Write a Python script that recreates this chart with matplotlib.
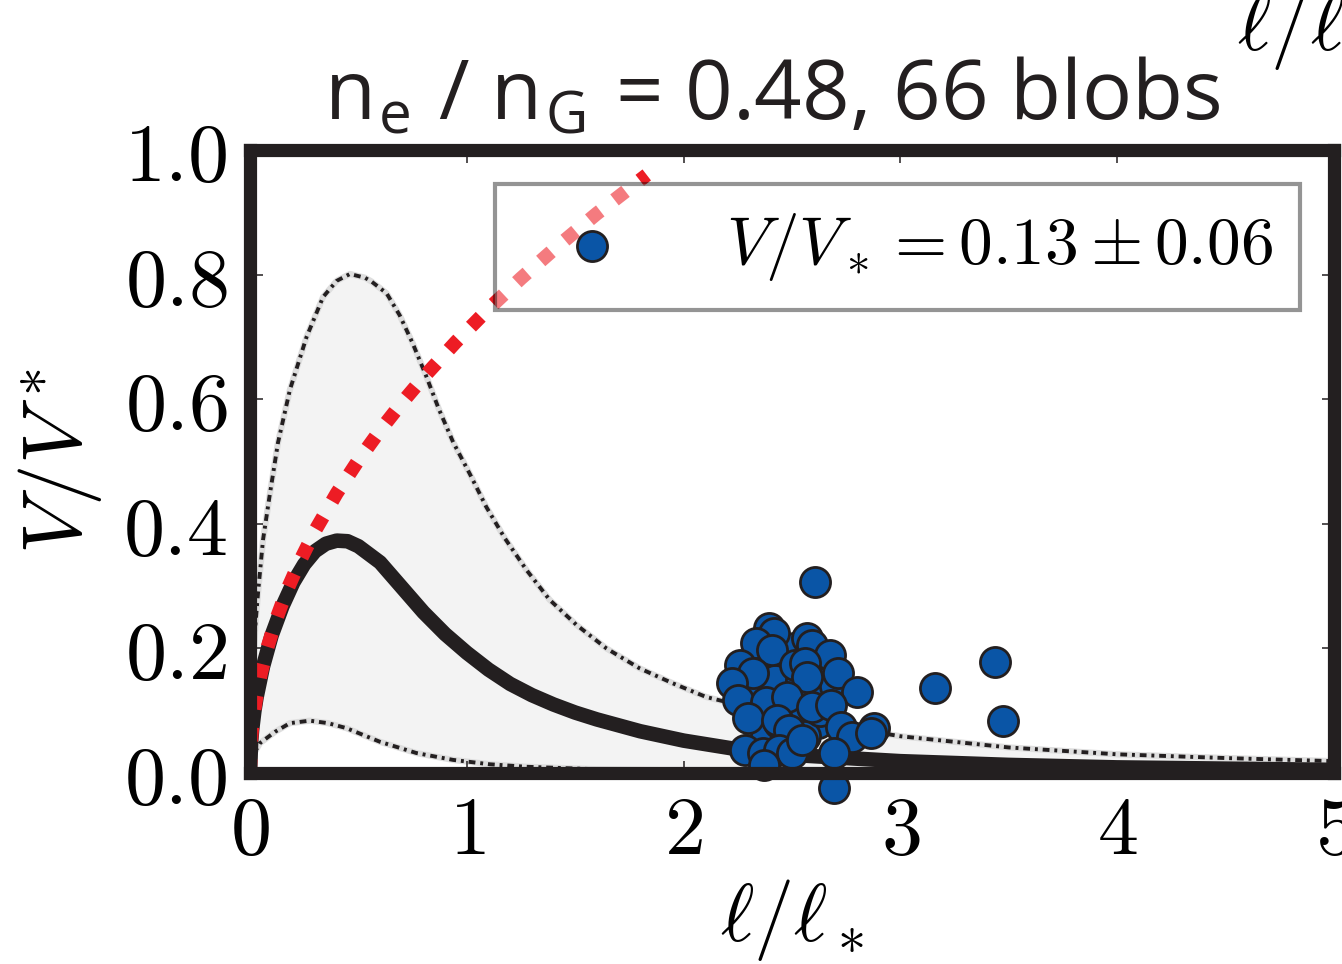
import numpy as np
import matplotlib
matplotlib.use("Agg")
import matplotlib.pyplot as plt

plt.rcParams['mathtext.fontset'] = 'cm'

# model curve (solid black)
model_l = [0, 0.005, 0.01, 0.02, 0.03, 0.06, 0.1, 0.15, 0.2, 0.25, 0.3, 0.35, 0.4, 0.45,
           0.5, 0.6, 0.7, 0.8, 0.9, 1.0, 1.1, 1.2, 1.3, 1.4, 1.5, 1.6, 1.8, 2.0, 2.25, 2.5,
           3.0, 3.5, 4.0, 4.5, 5.0]
model_v = [0, 0.050, 0.070, 0.099, 0.121, 0.171, 0.221, 0.268, 0.306, 0.335, 0.356, 0.368,
           0.373, 0.372, 0.364, 0.338, 0.298, 0.258, 0.223, 0.193, 0.166, 0.143, 0.125, 0.110,
           0.097, 0.086, 0.067, 0.052, 0.038, 0.029, 0.019, 0.013, 0.009, 0.007, 0.005]

# small-blob limit (red dotted)
red_l = [0, 0.005, 0.01, 0.02, 0.03, 0.05, 0.08, 0.12, 0.17, 0.23, 0.3, 0.4, 0.5, 0.6, 0.7, 0.8,
         0.95, 1.1, 1.25, 1.4, 1.6, 1.83]
red_v = [0, 0.050, 0.071, 0.100, 0.123, 0.159, 0.201, 0.246, 0.293, 0.340, 0.389, 0.449, 0.502,
         0.550, 0.594, 0.635, 0.692, 0.745, 0.794, 0.840, 0.898, 0.960]

# uncertainty band edges
up_l = [0, 0.005, 0.012, 0.026, 0.037, 0.06, 0.09, 0.129, 0.184, 0.261, 0.337, 0.40, 0.461,
        0.53, 0.56, 0.63, 0.69, 0.75, 0.814, 0.87, 0.937, 1.014, 1.09, 1.175, 1.275, 1.382,
        1.505, 1.644, 1.797, 1.95, 2.104, 2.5, 3.0, 3.5, 4.0, 4.5, 5.0]
up_v = [0, 0.106, 0.164, 0.242, 0.289, 0.374, 0.444, 0.53, 0.615, 0.70, 0.764, 0.79, 0.801,
        0.795, 0.789, 0.77, 0.735, 0.69, 0.636, 0.585, 0.531, 0.48, 0.427, 0.377, 0.326, 0.278,
        0.238, 0.20, 0.168, 0.144, 0.122, 0.088, 0.059, 0.041, 0.030, 0.024, 0.019]
lo_l = [0, 0.01, 0.023, 0.046, 0.115, 0.184, 0.276, 0.36, 0.445, 0.6, 0.768, 0.937, 1.106, 1.275,
        1.6, 2.0, 2.5, 3.0, 4.0, 5.0]
lo_v = [0, 0.022, 0.034, 0.048, 0.066, 0.080, 0.084, 0.080, 0.072, 0.050, 0.032, 0.021, 0.014,
        0.010, 0.006, 0.004, 0.003, 0.002, 0.001, 0.001]

# 66 blobs (hidden ones first, visible ones on top)
blob_l = [2.35, 2.45, 2.50, 2.40, 2.55, 2.60, 2.30, 2.45, 2.52, 2.62, 2.38, 2.58, 2.47, 2.65,
          2.33, 2.42, 2.56, 2.49, 2.60, 2.36, 2.70, 2.28, 2.51, 2.44, 2.63, 2.54, 2.40,
          2.396, 2.419, 2.336, 2.410, 2.571, 2.594, 2.673, 2.258, 2.318, 2.512, 2.558, 2.710,
          2.571, 2.221, 2.802, 2.249, 2.382, 2.479, 2.590, 2.682, 2.295, 2.728, 2.880, 2.779,
          2.433, 2.488, 2.281, 2.364, 2.442, 2.502, 2.696, 2.696, 2.373, 2.544, 2.866,
          2.604, 3.161, 3.438, 3.475]
blob_v = [0.18, 0.16, 0.14, 0.13, 0.12, 0.14, 0.13, 0.10, 0.09, 0.08, 0.06, 0.17, 0.19, 0.12,
          0.10, 0.15, 0.06, 0.05, 0.19, 0.20, 0.14, 0.16, 0.20, 0.08, 0.10, 0.15, 0.11,
          0.233, 0.225, 0.209, 0.197, 0.217, 0.205, 0.189, 0.173, 0.161, 0.173, 0.177, 0.161,
          0.154, 0.144, 0.130, 0.117, 0.114, 0.122, 0.106, 0.109, 0.088, 0.074, 0.072, 0.058,
          0.085, 0.069, 0.037, 0.032, 0.037, 0.032, 0.032, -0.024, 0.013, 0.053, 0.064,
          0.307, 0.136, 0.178, 0.083]

xticks = [0, 1, 2, 3, 4, 5]
yticks = [0.0, 0.2, 0.4, 0.6, 0.8, 1.0]

black = '#231f20'
fig = plt.figure(figsize=(13.42, 9.64), dpi=100)
ax = fig.add_axes([250/1342, 1-773/964, (1334-250)/1342, (773-150)/964])

band_x = up_l + lo_l[::-1]
band_y = up_v + lo_v[::-1]
ax.fill(band_x, band_y, color='#f3f3f3', lw=0, zorder=1)
for xs, ys in [(up_l, up_v), (lo_l, lo_v)]:
    ax.plot(xs, ys, color='#dedede', lw=4.5, zorder=1.5, solid_capstyle='butt')
    ax.plot(xs, ys, color=black, lw=2.8, dashes=(1.75, 1.25, 0.75, 1.25), zorder=1.6)

ax.plot(model_l, model_v, color=black, lw=10.5, zorder=2, solid_capstyle='butt')
ax.plot(red_l, red_v, color='#ed1c24', lw=10, dashes=(1.0, 1.3), zorder=3,
        dash_capstyle='butt')

ax.scatter(blob_l, blob_v, s=470, c='#0a55a6', edgecolors=black, linewidths=2,
           zorder=4, clip_on=False, label=r'$V/V_* = 0.13 \pm 0.06$')

leg = ax.legend(loc='upper right', fontsize=48.5, scatterpoints=1, framealpha=0.42,
                edgecolor='k', fancybox=False, borderaxespad=0.5, borderpad=0.4,
                handlelength=2.08, handletextpad=0.95)
leg.get_frame().set_linewidth(3)
leg.set_zorder(6)

ax.set_xlim(0, 5)
ax.set_ylim(0, 1.0)
ax.set_xticks(xticks)
ax.set_xticklabels([r'$%d$' % t for t in xticks])
ax.set_yticks(yticks)
ax.set_yticklabels([r'$%.1f$' % t for t in yticks])
ax.tick_params(direction='in', length=9, width=1.1, top=True, right=True,
               labelsize=59, color=black)
ax.tick_params(axis='x', pad=14)
ax.tick_params(axis='y', pad=16)
for sp in ax.spines.values():
    sp.set_linewidth(9.5)
    sp.set_color(black)
    sp.set_zorder(10)

ax.set_xlabel(r'$\ell/\ell_*$', fontsize=58, labelpad=4)
ax.set_ylabel(r'$V/V^*$', fontsize=60, labelpad=14)
ax.set_title(r'n$_\mathregular{e}$ / n$_\mathregular{G}$ = 0.48, 66 blobs',
             fontname='Open Sans', fontsize=60, pad=22, color=black, x=0.482)
fig.text(0.922, 1.015, r'$\ell/\ell_*$', fontsize=58, va='top', ha='left')

fig.savefig('out.png', dpi=100)
